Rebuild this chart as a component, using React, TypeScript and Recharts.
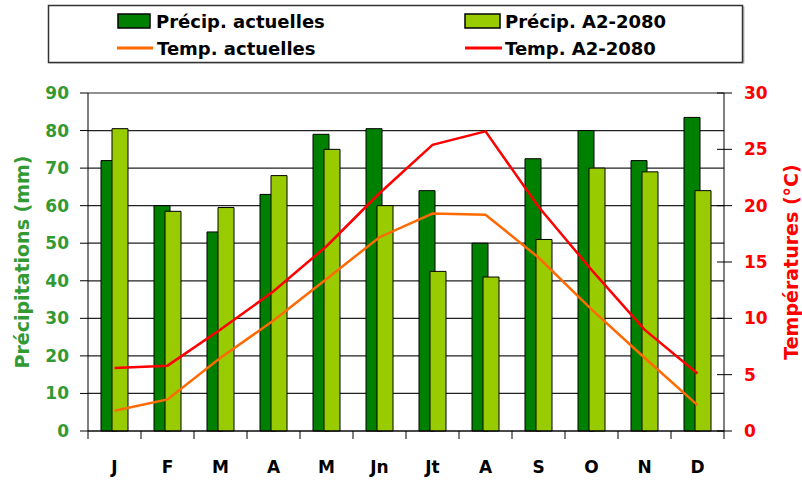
import { Bar, CartesianGrid, ComposedChart, Line, XAxis, YAxis } from 'recharts';

const mois = ['J', 'F', 'M', 'A', 'M', 'Jn', 'Jt', 'A', 'S', 'O', 'N', 'D'];
const precipActuelles = [72, 60, 53, 63, 79, 80.5, 64, 50, 72.5, 80, 72, 83.5];
const precipA2 = [80.5, 58.5, 59.5, 68, 75, 60, 42.5, 41, 51, 70, 69, 64];
const tempActuelles = [1.8, 2.8, 6.5, 9.8, 13.5, 17.2, 19.3, 19.2, 15.4, 10.8, 6.5, 2.3];
const tempA2 = [5.6, 5.8, 9.0, 12.4, 16.4, 21.1, 25.4, 26.6, 19.9, 14.3, 9.0, 5.1];
const precipTicks = [0, 10, 20, 30, 40, 50, 60, 70, 80, 90];
const tempTicks = [0, 5, 10, 15, 20, 25, 30];

const data = mois.map((m, i) => ({
  idx: i,
  mois: m,
  pAct: precipActuelles[i],
  pA2: precipA2[i],
  tAct: tempActuelles[i],
  tA2: tempA2[i],
}));

const FONT = 'DejaVu Sans, sans-serif';
const GREEN_TXT = '#339933';
const HALF_BAND = 26.5;

const MonthTick = (props: any) => {
  const { x, y, payload, index } = props;
  return (
    <g>
      <line x1={x - HALF_BAND} y1={y} x2={x - HALF_BAND} y2={y + 8} stroke="#000" />
      {index === mois.length - 1 && (
        <line x1={x + HALF_BAND} y1={y} x2={x + HALF_BAND} y2={y + 8} stroke="#000" />
      )}
      <text x={x} y={y + 42} textAnchor="middle" fontFamily={FONT} fontWeight="bold" fontSize={17} fill="#000">
        {mois[payload.value]}
      </text>
    </g>
  );
};

const LeftTick = (props: any) => {
  const { x, y, payload } = props;
  return (
    <g>
      <line x1={x - 8} y1={y} x2={x} y2={y} stroke="#000" />
      <text x={x - 19} y={y + 6} textAnchor="end" fontFamily={FONT} fontWeight="bold" fontSize={17} fill={GREEN_TXT}>
        {payload.value}
      </text>
    </g>
  );
};

const RightTick = (props: any) => {
  const { x, y, payload } = props;
  return (
    <g>
      <line x1={x - 7} y1={y} x2={x + 8} y2={y} stroke="#000" />
      <text x={x + 20} y={y + 6} textAnchor="start" fontFamily={FONT} fontWeight="bold" fontSize={17} fill="#ff0000">
        {payload.value}
      </text>
    </g>
  );
};

function Legende() {
  const txt = { fontFamily: FONT, fontWeight: 'bold' as const, fontSize: 18, fill: '#000' };
  return (
    <svg width={802} height={70} style={{ position: 'absolute', left: 0, top: 0 }}>
      <rect x={49.5} y={6.5} width={695} height={57} fill="#bbb" />
      <rect x={48.5} y={5.5} width={694} height={57} fill="#fff" stroke="#333" strokeWidth={1.5} />
      <rect x={118} y={14} width={32} height={14} fill="#008000" stroke="#000" strokeWidth={1.5} />
      <text x={156} y={28} {...txt}>Précip. actuelles</text>
      <rect x={465} y={14} width={35} height={14} fill="#99cc00" stroke="#000" strokeWidth={1.5} />
      <text x={505} y={28} {...txt}>Précip. A2-2080</text>
      <line x1={117} y1={48} x2={153} y2={48} stroke="#ff6a00" strokeWidth={3} />
      <text x={157} y={55} {...txt}>Temp. actuelles</text>
      <line x1={465} y1={48} x2={502} y2={48} stroke="#ff0000" strokeWidth={3} />
      <text x={505} y={55} {...txt}>Temp. A2-2080</text>
    </svg>
  );
}

export default function App() {
  return (
    <div style={{ position: 'absolute', left: 0, top: 0, width: 802, height: 480, background: '#fff' }}>
      <ComposedChart
        width={802}
        height={480}
        data={data}
        margin={{ top: 93, right: 18, bottom: 19, left: 28 }}
        barGap={-5}
        barCategoryGap={0}
      >
        <CartesianGrid vertical={false} stroke="#222" strokeWidth={1.2} yAxisId="p" />
        <XAxis
          dataKey="idx"
          type="category"
          height={30}
          tickLine={false}
          tickSize={0}
          tickMargin={0}
          axisLine={{ stroke: '#000' }}
          tick={<MonthTick />}
          interval={0}
        />
        <YAxis
          yAxisId="p"
          orientation="left"
          domain={[0, 90]}
          ticks={precipTicks}
          width={60}
          tickLine={false}
          tickSize={0}
          tickMargin={0}
          axisLine={{ stroke: '#000' }}
          tick={<LeftTick />}
          interval={0}
          label={{
            value: 'Précipitations (mm)',
            angle: -90,
            position: 'insideLeft',
            offset: -6,
            style: { fill: GREEN_TXT, fontFamily: FONT, fontWeight: 'bold', fontSize: 19, textAnchor: 'middle' },
          }}
        />
        <YAxis
          yAxisId="t"
          orientation="right"
          domain={[0, 30]}
          ticks={tempTicks}
          width={60}
          tickLine={false}
          tickSize={0}
          tickMargin={0}
          axisLine={{ stroke: '#000' }}
          tick={<RightTick />}
          interval={0}
          label={{
            value: 'Températures (°C)',
            angle: -90,
            position: 'insideRight',
            offset: -7,
            style: { fill: '#ff0000', fontFamily: FONT, fontWeight: 'bold', fontSize: 19, textAnchor: 'middle' },
          }}
        />
        <Bar yAxisId="p" dataKey="pAct" barSize={16} fill="#008000" stroke="#000" strokeWidth={1} isAnimationActive={false} />
        <Bar yAxisId="p" dataKey="pA2" barSize={16} fill="#99cc00" stroke="#000" strokeWidth={1} isAnimationActive={false} />
        <Line yAxisId="t" type="linear" dataKey="tAct" stroke="#ff6a00" strokeWidth={2.5} dot={false} isAnimationActive={false} />
        <Line yAxisId="t" type="linear" dataKey="tA2" stroke="#ff0000" strokeWidth={2.5} dot={false} isAnimationActive={false} />
      </ComposedChart>
      <Legende />
    </div>
  );
}
